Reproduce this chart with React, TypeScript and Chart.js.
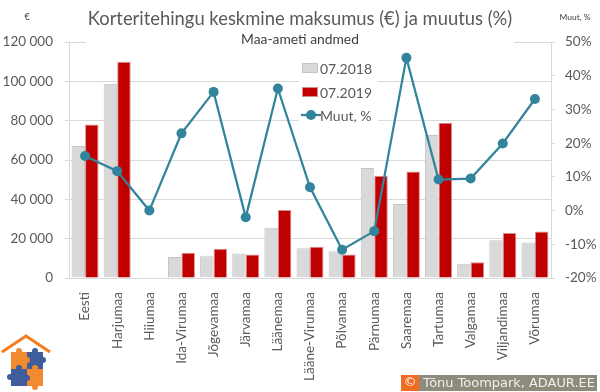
import React, { useEffect, useRef } from 'react';
import { Chart, registerables } from 'chart.js';
Chart.register(...registerables);

const categories = ['Eesti', 'Harjumaa', 'Hiiumaa', 'Ida-Virumaa', 'Jõgevamaa', 'Järvamaa', 'Läänemaa', 'Lääne-Virumaa', 'Põlvamaa', 'Pärnumaa', 'Saaremaa', 'Tartumaa', 'Valgamaa', 'Viljandimaa', 'Võrumaa'];
const price2018 = [67100, 98800, null, 10700, 11000, 12400, 25600, 15100, 13600, 55900, 37600, 72700, 7300, 19200, 18000];
const price2019 = [78000, 110000, null, 12900, 14900, 11900, 34600, 15900, 11900, 52000, 54100, 79000, 8000, 22900, 23600];
const changePct = [16.2, 11.7, 0, 22.9, 35.2, -2, 36.2, 6.9, -11.6, -6.1, 45.3, 9.2, 9.5, 19.9, 33.1];
const seriesNames = ['07.2018', '07.2019', 'Muut, %'];
const titleText = 'Korteritehingu keskmine maksumus (€) ja muutus (%)';
const subtitleText = 'Maa-ameti andmed';
const leftUnit = '€';
const rightUnit = 'Muut, %';
const creditText = 'Tõnu Toompark, ADAUR.EE';

const GRAY = '#d9d9d9';
const RED = '#c00000';
const TEAL = '#31849b';
const TEXT = '#595959';
const GRID = '#d9d9d9';
const FONT = 'Lato';

function fmtThousands(v: number) {
  return String(v).replace(/\B(?=(\d{3})+(?!\d))/g, ' ');
}

function fitFont(ctx: CanvasRenderingContext2D, text: string, family: string, targetW: number, base: number, weight = '') {
  ctx.font = `${weight} ${base}px ${family}`;
  const w = ctx.measureText(text).width;
  const s = base * targetW / w;
  ctx.font = `${weight} ${s}px ${family}`;
}

const decorPlugin = {
  id: 'decor',
  beforeDatasetsDraw(chart: any) {
    const ctx: CanvasRenderingContext2D = chart.ctx;
    ctx.save();
    ctx.fillStyle = '#ffffff';
    ctx.fillRect(86, 28, 428, 18);
    ctx.fillRect(299, 55, 79, 73);
    // legend
    const ds = chart.data.datasets;
    const rows = [68, 92, 115];
    ctx.textBaseline = 'middle';
    ctx.textAlign = 'left';
    ctx.font = `14px ${FONT}`;
    // gray
    ctx.fillStyle = ds[0].backgroundColor;
    ctx.fillRect(302, rows[0] - 5, 16, 10);
    ctx.strokeStyle = ds[0].borderColor;
    ctx.lineWidth = 1;
    ctx.strokeRect(302.5, rows[0] - 4.5, 15, 9);
    ctx.fillStyle = ds[1].backgroundColor;
    ctx.fillRect(302, rows[1] - 5, 16, 10);
    ctx.strokeStyle = ds[1].borderColor;
    ctx.strokeRect(302.5, rows[1] - 4.5, 15, 9);
    ctx.strokeStyle = ds[2].borderColor;
    ctx.lineWidth = 2.25;
    ctx.beginPath();
    ctx.moveTo(301, rows[2]);
    ctx.lineTo(321, rows[2]);
    ctx.stroke();
    ctx.fillStyle = ds[2].pointBackgroundColor;
    ctx.beginPath();
    ctx.arc(311, rows[2], 5, 0, Math.PI * 2);
    ctx.fill();
    ctx.fillStyle = TEXT;
    for (let i = 0; i < 3; i++) {
      ctx.fillText(seriesNames[i], 320, rows[i] + 1);
    }
    ctx.restore();
  },
  afterDraw(chart: any) {
    const ctx: CanvasRenderingContext2D = chart.ctx;
    ctx.save();
    ctx.textBaseline = 'middle';
    ctx.textAlign = 'center';
    ctx.fillStyle = TEXT;
    fitFont(ctx, titleText, FONT, 425, 18);
    ctx.fillText(titleText, 300, 19);
    ctx.fillStyle = '#404040';
    fitFont(ctx, subtitleText, FONT, 118, 12);
    ctx.fillText(subtitleText, 300, 40);
    ctx.font = `9px ${FONT}`;
    ctx.fillText(leftUnit, 27, 17);
    fitFont(ctx, rightUnit, FONT, 31, 9);
    ctx.fillText(rightUnit, 575, 17);

    // logo
    ctx.strokeStyle = '#f47b20';
    ctx.lineWidth = 3;
    ctx.lineJoin = 'miter';
    ctx.beginPath();
    ctx.moveTo(2, 352);
    ctx.lineTo(26, 336);
    ctx.lineTo(50, 352);
    ctx.stroke();
    const OR = '#f28a30';
    const BL = '#3f5c9c';
    const pieces = [
      [11, 352, OR], [27, 352, BL], [11, 369, BL], [27, 369, OR],
    ];
    for (const [x, y, c] of pieces as any) {
      ctx.fillStyle = c;
      ctx.fillRect(x, y, 16, 17);
    }
    const knobs = [
      [19, 351, OR], [35, 351, BL], [27, 360, OR], [43, 360, BL],
      [10, 377, BL], [27, 378, BL], [35, 368, OR], [35, 387, OR], [19, 368, BL],
    ];
    for (const [x, y, c] of knobs as any) {
      ctx.fillStyle = c;
      ctx.beginPath();
      ctx.arc(x, y, 3, 0, Math.PI * 2);
      ctx.fill();
    }

    // credit
    ctx.fillStyle = '#f26b22';
    ctx.fillRect(401, 375, 18, 16);
    ctx.fillStyle = '#8c8b7c';
    ctx.fillRect(419, 375, 178, 16);
    ctx.fillStyle = '#ffffff';
    ctx.font = `13px DejaVu Sans`;
    ctx.fillText('©', 410, 383);
    ctx.textAlign = 'left';
    ctx.fillStyle = '#f0f0e8';
    fitFont(ctx, creditText, 'DejaVu Sans', 172, 12);
    ctx.fillText(creditText, 423, 383.5);
    ctx.restore();
  },
};

export default function App() {
  const ref = useRef<HTMLCanvasElement>(null);
  useEffect(() => {
    document.body.style.margin = '0';
    const chart = new Chart(ref.current!, {
      type: 'bar',
      data: {
        labels: categories,
        datasets: [
          {
            type: 'bar',
            label: seriesNames[0],
            data: price2018 as any,
            backgroundColor: GRAY,
            borderColor: '#c4c4c4',
            borderWidth: 1,
            yAxisID: 'y',
            order: 2,
            barPercentage: 1,
            categoryPercentage: 0.84,
          },
          {
            type: 'bar',
            label: seriesNames[1],
            data: price2019 as any,
            backgroundColor: RED,
            borderColor: '#d98c8c',
            borderWidth: 1,
            yAxisID: 'y',
            order: 2,
            barPercentage: 1,
            categoryPercentage: 0.84,
          },
          {
            type: 'line',
            label: seriesNames[2],
            data: changePct,
            borderColor: TEAL,
            backgroundColor: TEAL,
            pointBackgroundColor: TEAL,
            pointBorderColor: TEAL,
            pointRadius: 5,
            pointBorderWidth: 0,
            borderWidth: 2.25,
            tension: 0,
            yAxisID: 'y1',
            order: 0,
          } as any,
        ],
      },
      options: {
        responsive: false,
        animation: false,
        devicePixelRatio: 1,
        layout: { padding: { top: 42, left: 0, right: 0, bottom: 0 } },
        plugins: {
          legend: { display: false },
          title: { display: false },
          tooltip: { enabled: false },
        },
        scales: {
          x: {
            grid: { display: false },
            border: { display: true, color: GRID, width: 1 },
            ticks: {
              autoSkip: false,
              minRotation: 90,
              maxRotation: 90,
              padding: 6,
              color: TEXT,
              font: { family: FONT, size: 13.5 },
            },
            afterFit: (s: any) => { s.height = 114; },
          },
          y: {
            position: 'left',
            min: 0,
            max: 120000,
            ticks: {
              stepSize: 20000,
              padding: 12,
              color: TEXT,
              font: { family: FONT, size: 13.5 },
              callback: (v: any) => fmtThousands(Number(v)),
            },
            grid: { color: GRID, tickLength: 4, tickColor: GRID, lineWidth: 1 },
            border: { display: true, color: GRID },
            afterFit: (s: any) => { s.width = 69; },
          },
          y1: {
            position: 'right',
            min: -20,
            max: 50,
            ticks: {
              stepSize: 10,
              padding: 10,
              color: TEXT,
              font: { family: FONT, size: 13.5 },
              callback: (v: any) => `${v}%`,
            },
            grid: { drawOnChartArea: false, tickLength: 4, tickColor: GRID },
            border: { display: true, color: GRID },
            afterFit: (s: any) => { s.width = 49; },
          },
        },
      },
      plugins: [decorPlugin],
    });
    return () => chart.destroy();
  }, []);
  return <canvas ref={ref} width={600} height={392} style={{ display: 'block' }} />;
}
